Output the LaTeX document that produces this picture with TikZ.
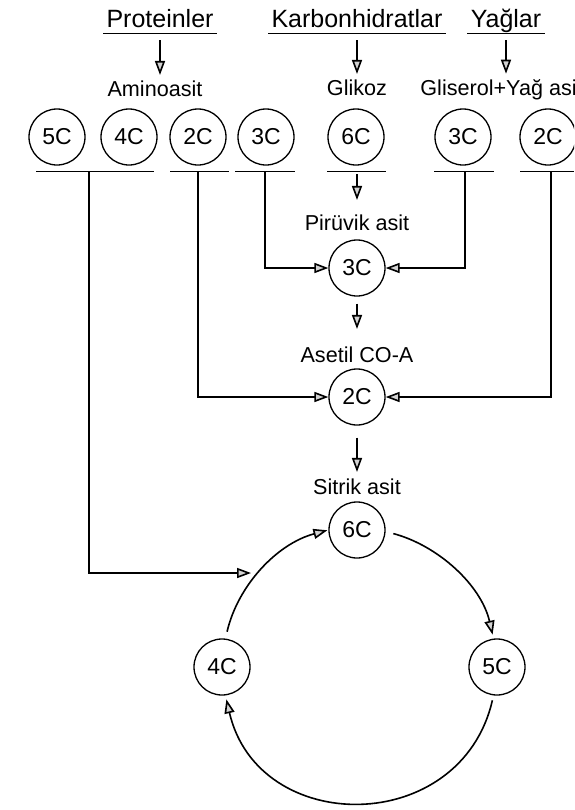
\documentclass[tikz,border=0pt]{standalone}
\usepackage{fontspec}
\setmainfont{Liberation Sans}
\usepackage{tikz}
\usetikzlibrary{positioning,arrows.meta}

\begin{document}
\begin{tikzpicture}[
x=0.5pt,y=-0.5pt,
>={Triangle[length=7pt,width=5pt,fill=gray!35]},
head/.style={
anchor=south,
inner xsep=1.5pt,
inner ysep=0.5pt,
text depth=2pt,
font=\fontsize{12.5}{15}\selectfont
},
lbl/.style={
anchor=base,
inner sep=1pt,
font=\fontsize{10.8}{12}\selectfont
},
cnode/.style={
draw,
circle,
line width=0.65pt,
minimum size=28pt,
inner sep=0pt,
font=\fontsize{11.5}{13}\selectfont
},
bar/.style={line width=0.5pt},
arrow/.style={->,line width=0.8pt}
]

\useasboundingbox (0,0) rectangle (574,810);
\clip (0,0) rectangle (574,810);

%---------------- Top ----------------%

\node[head] (prot) at (160,33) {Proteinler};
\node[head] (karb) at (357,33) {Karbonhidratlar};
\node[head] (yag) at (506,33) {Yağlar};

\draw[bar] (prot.south west)--(prot.south east);
\draw[bar] (karb.south west)--(karb.south east);
\draw[bar] (yag.south west)--(yag.south east);

\node[lbl] (amino) at (155,96) {Aminoasit};
\node[lbl] (glikoz) at (357,95) {Glikoz};
\node[lbl,anchor=base west] (glis) at (418,95) {Gliserol+Yağ asit};

\node[cnode] (a5) at (57,137) {5C};
\node[cnode] (a4) at (129,137) {4C};
\node[cnode] (a2) at (198,137) {2C};
\node[cnode] (g3) at (266,137) {3C};
\node[cnode] (g6) at (356,137) {6C};
\node[cnode] (y3) at (463,137) {3C};
\node[cnode] (y2) at (548,137) {2C};

\draw[bar] (36,171)--(154,171);
\draw[bar] (170,171)--(229,171);
\draw[bar] (235,171)--(295,171);
\draw[bar] (327,171)--(386,171);
\draw[bar] (434,171)--(494,171);
\draw[bar] (520,171)--(574,171);

\coordinate (s1) at (89,171);
\coordinate (s2) at (198,171);
\coordinate (s3) at (265,171);
\coordinate (s4) at (357,171);
\coordinate (s5) at (465,171);
\coordinate (s6) at (551,171);

%---------------- Middle ----------------%

\node[lbl] (pyrtxt) at (357,230) {Pirüvik asit};
\node[cnode] (pyr) at (357,268) {3C};

\node[lbl] (acetxt) at (357,362) {Asetil CO-A};
\node[cnode] (ace) at (357,397) {2C};

%---------------- Cycle ----------------%

\node[lbl] (sittxt) at (357,494) {Sitrik asit};
\node[cnode] (sit) at (357,530) {6C};
\node[cnode] (k4) at (222,667) {4C};
\node[cnode] (k5) at (497,667) {5C};

\coordinate (giris) at (251,573);

%---------------- Connections ----------------%

\draw[arrow,shorten <=3.5pt,shorten >=1.5pt] (prot)--(prot |- amino.north);
\draw[arrow,shorten <=3.5pt,shorten >=1.5pt] (karb)--(karb |- glikoz.north);
\draw[arrow,shorten <=3.5pt,shorten >=1.5pt] (yag)--(yag |- glis.north);

\draw[arrow,shorten <=1.5pt,shorten >=6pt] (s4)--(pyrtxt);
\draw[arrow,shorten <=3.5pt,shorten >=7.5pt] (pyr)--(acetxt);
\draw[arrow,shorten <=6pt,shorten >=2pt] (ace)--(sittxt);

\draw[arrow] (s3) |- (pyr);
\draw[arrow] (s5) |- (pyr);

\draw[arrow] (s2) |- (ace);
\draw[arrow] (s6) |- (ace);

\draw[arrow] (s1) |- (giris);

\draw[arrow,shorten <=4pt,shorten >=2pt] (sit.-3) to[out=-15,in=103,looseness=0.92] (k5.97);
\draw[arrow,shorten <=2.5pt,shorten >=2pt] (k5.-97) to[out=-103,in=-77,looseness=1.39] (k4.-83);
\draw[arrow,shorten <=3.5pt,shorten >=0.5pt] (k4.83) to[out=77,in=-165,looseness=0.92] (sit.180);

\end{tikzpicture}
\end{document}
